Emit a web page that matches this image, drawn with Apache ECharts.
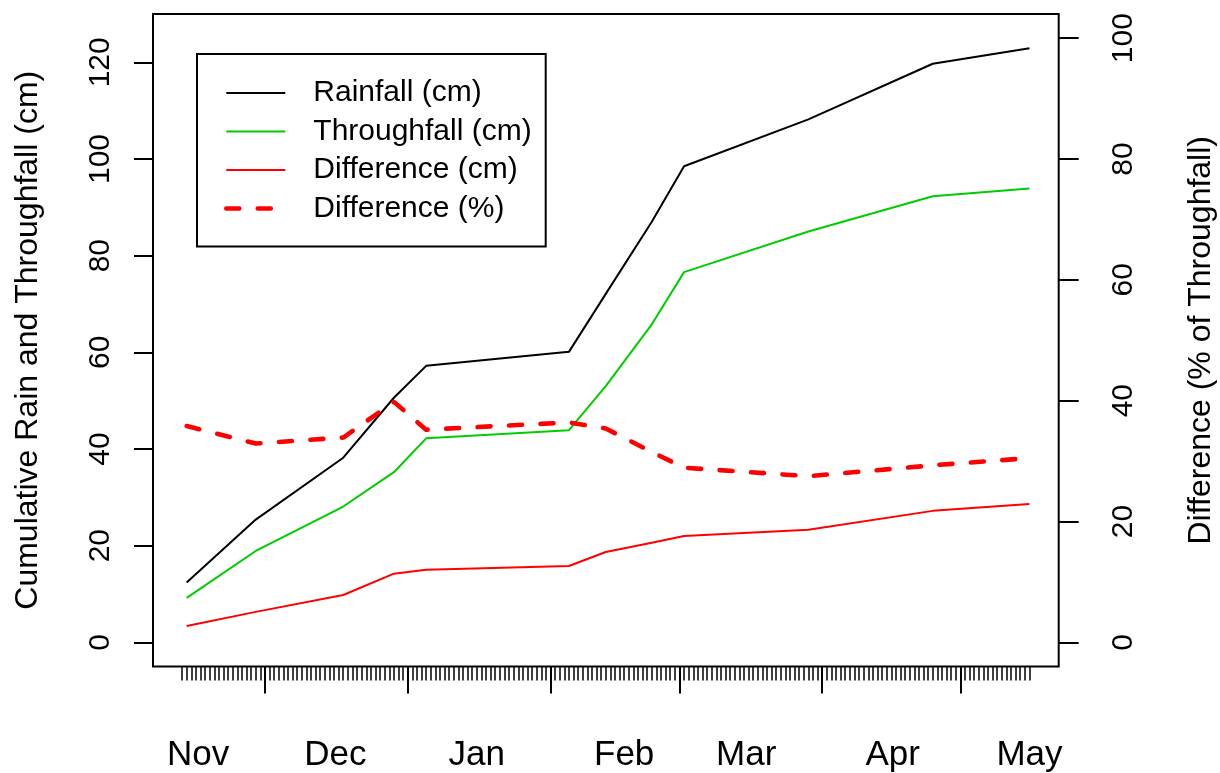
<!DOCTYPE html>
<html>
<head>
<meta charset="utf-8">
<script src="https://cdn.jsdelivr.net/npm/echarts@6/dist/echarts.min.js"></script>
<style>
html, body { margin: 0; padding: 0; background: #ffffff; }
#chart { width: 1220px; height: 773px; }
</style>
</head>
<body>
<div id="chart"></div>
<script>
// Day numbers counted from 1 November (Dec 1 = 30, Jan 1 = 61, ...)
const days        = [13, 28, 47, 58, 65, 96, 104, 114, 121, 148, 175, 196];
const rainfall    = [12.4, 25.4, 38.2, 50.6, 57.2, 60.1, 72.1, 87.0, 98.5, 108.2, 119.7, 122.9];
const throughfall = [9.2, 18.9, 28.1, 35.2, 42.2, 43.9, 53.0, 65.8, 76.6, 85.0, 92.3, 93.9];
const diffCm      = [3.4, 6.3, 9.8, 14.2, 15.0, 15.8, 18.7, 20.6, 22.0, 23.3, 27.2, 28.6];
const diffPct     = [35.8, 32.9, 33.9, 39.8, 35.2, 36.4, 35.4, 31.5, 28.9, 27.5, 29.3, 30.5];

const monthNames     = ['Nov', 'Dec', 'Jan', 'Feb', 'Mar', 'Apr', 'May'];
const monthLabelDays = [15.5, 45.3, 76, 108, 134.5, 166.3, 196];
const monthStartDays = [30, 61, 92, 120, 151, 181];
const leftTicks  = [0, 20, 40, 60, 80, 100, 120];
const rightTicks = [0, 20, 40, 60, 80, 100];
const firstDay = 12, lastDay = 196;

const dailyTicks = [];
for (let d = firstDay; d <= lastDay; d++) dailyTicks.push(d);

const zip = (xs, ys) => xs.map((x, i) => [x, ys[i]]);

const FONT = '"Liberation Sans", Arial, Helvetica, sans-serif';
const X_MIN = 5.69, X_MAX = 202.35;

const chart = echarts.init(document.getElementById('chart'), null, { renderer: 'canvas' });

const option = {
  animation: false,
  backgroundColor: '#ffffff',
  textStyle: { fontFamily: FONT, color: '#000' },
  grid: {
    left: 153, right: 161.3, top: 14, bottom: 106.5,
    containLabel: false, outerBoundsMode: 'none',
    show: true, borderColor: '#000', borderWidth: 2, backgroundColor: 'transparent'
  },
  legend: {
    orient: 'vertical',
    left: 197, top: 54,
    padding: [24, 14, 23, 27],
    itemWidth: 59, itemHeight: 14, itemGap: 8.5,
    borderColor: '#000', borderWidth: 2, borderRadius: 0,
    backgroundColor: '#fff',
    lineStyle: { width: 'inherit' },
    itemStyle: { opacity: 0, borderWidth: 0 },
    textStyle: { fontSize: 30, fontFamily: FONT, color: '#000', lineHeight: 30, padding: [0, 0, 0, 23] },
    data: ['Rainfall (cm)', 'Throughfall (cm)', 'Difference (cm)', 'Difference (%)']
  },
  xAxis: [
    {
      type: 'value', min: X_MIN, max: X_MAX, position: 'bottom',
      axisLine: { show: false, onZero: false },
      splitLine: { show: false },
      axisTick: { show: true, customValues: monthStartDays, length: 27, lineStyle: { color: '#000', width: 2 } },
      axisLabel: {
        show: true, customValues: monthLabelDays, margin: 71,
        fontSize: 35, fontFamily: FONT, color: '#000',
        formatter: v => monthNames[monthLabelDays.indexOf(v)]
      }
    },
    {
      type: 'value', min: X_MIN, max: X_MAX, position: 'bottom',
      axisLine: { show: false, onZero: false },
      splitLine: { show: false },
      axisTick: { show: true, customValues: dailyTicks, length: 14, lineStyle: { color: '#000', width: 1.5 } },
      axisLabel: { show: false }
    }
  ],
  yAxis: [
    {
      type: 'value', min: -5, max: 130, position: 'left',
      name: 'Cumulative Rain and Throughfall (cm)',
      nameLocation: 'middle', nameGap: 109,
      nameTextStyle: { fontSize: 32, fontFamily: FONT, color: '#000' },
      axisLine: { show: false, onZero: false },
      splitLine: { show: false },
      axisTick: { show: true, customValues: leftTicks, length: 19, lineStyle: { color: '#000', width: 2 } },
      axisLabel: { show: true, customValues: leftTicks, rotate: 90, margin: 37, fontSize: 30, fontFamily: FONT, color: '#000' }
    },
    {
      type: 'value', min: -4, max: 104, position: 'right',
      name: 'Difference (% of Throughfall)',
      nameLocation: 'middle', nameGap: 126,
      nameTextStyle: { fontSize: 32, fontFamily: FONT, color: '#000' },
      axisLine: { show: false, onZero: false },
      splitLine: { show: false },
      axisTick: { show: true, customValues: rightTicks, length: 20, lineStyle: { color: '#000', width: 2 } },
      axisLabel: { show: true, customValues: rightTicks, rotate: 90, margin: 50, fontSize: 30, fontFamily: FONT, color: '#000' }
    }
  ],
  series: [
    {
      name: 'Rainfall (cm)', type: 'line', xAxisIndex: 0, yAxisIndex: 0,
      data: zip(days, rainfall), symbol: 'none', silent: true,
      lineStyle: { color: '#000000', width: 2, join: 'round' }, itemStyle: { color: '#000000' }
    },
    {
      name: 'Throughfall (cm)', type: 'line', xAxisIndex: 0, yAxisIndex: 0,
      data: zip(days, throughfall), symbol: 'none', silent: true,
      lineStyle: { color: '#00CD00', width: 2, join: 'round' }, itemStyle: { color: '#00CD00' }
    },
    {
      name: 'Difference (cm)', type: 'line', xAxisIndex: 0, yAxisIndex: 0,
      data: zip(days, diffCm), symbol: 'none', silent: true,
      lineStyle: { color: '#FF0000', width: 2, join: 'round' }, itemStyle: { color: '#FF0000' }
    },
    {
      name: 'Difference (%)', type: 'line', xAxisIndex: 0, yAxisIndex: 1,
      data: zip(days, diffPct), symbol: 'none', silent: true,
      lineStyle: { color: '#FF0000', width: 4.6, type: [13, 18.5], cap: 'round', join: 'round' },
      itemStyle: { color: '#FF0000' }
    }
  ]
};

chart.setOption(option);
</script>
</body>
</html>
